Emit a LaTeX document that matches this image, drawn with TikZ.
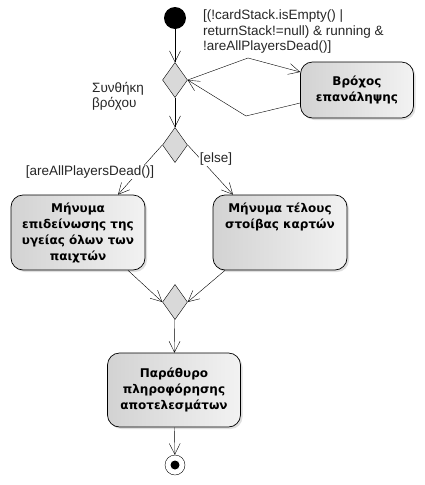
\documentclass[tikz,border=0pt]{standalone}
\usepackage{fontspec}
\setmainfont{Liberation Sans}
\newfontfamily\boxfont{DejaVu Sans}
\usepackage{tikz}
\usetikzlibrary{arrows.meta,shapes.geometric,shadows,positioning}

\begin{document}
\begin{tikzpicture}[x=1pt, y=-1pt,
    flow/.style={-{Straight Barb[length=11pt,width=11pt]}, thin},
    decision/.style={diamond, draw, fill=gray!30, inner sep=0pt, minimum width=25pt, minimum height=35pt},
    actbox/.style={draw, line width=0.7pt, rounded corners=12pt, left color=gray!35, right color=gray!10,
      drop shadow={shadow xshift=2pt, shadow yshift=-2pt, fill=gray!50}},
    boxtext/.style={align=center, font=\boxfont\bfseries\fontsize{12}{16}\selectfont},
    guard/.style={font=\fontsize{13.5}{15.5}\selectfont, text=black!85, inner sep=1pt}]
    \useasboundingbox (0,0) rectangle (424,485);

    \node[circle, fill=black, minimum size=22pt, inner sep=0pt] (start) at (175,18) {};
    \node[decision] (dec1) at (175,80) {};
    \node[actbox, minimum width=113pt, minimum height=56pt, boxtext] (loopbox) at (357,90) {Βρόχος\\επανάληψης};
    \node[guard, align=left, anchor=north west] (loopguard) at (202,9)
      {[(!cardStack.isEmpty() |\\returnStack!=null) \& running \&\\!areAllPlayersDead()]};
    \node[guard, align=left, anchor=north west] (looplabel) at (91,81) {Συνθήκη\\βρόχου};

    \node[decision] (dec2) at (175,145) {};
    \node[actbox, minimum width=134pt, minimum height=75pt, boxtext] (msgdead) at (78,232.5)
      {Μήνυμα\\επιδείνωσης της\\υγείας όλων των\\παιχτών};
    \node[actbox, minimum width=134pt, minimum height=75pt] (msgend) at (280,232.5) {};
    \node[boxtext, below=5pt of msgend.north] (msgendtext) {Μήνυμα τέλους\\στοίβας καρτών};

    \node[decision] (merge) at (175,302) {};
    \node[actbox, minimum width=133pt, minimum height=74pt, boxtext] (results) at (174,390)
      {Παράθυρο\\πληροφόρησης\\αποτελεσμάτων};
    \node[circle, draw, minimum size=20pt, inner sep=0pt] (final) at (175,465) {};
    \fill (final) circle (4.5);

    \coordinate (loopup) at (248,58);
    \coordinate (loopdn) at (246,116);

    \draw[flow] (start) -- (dec1);
    \draw[flow] (dec1.east) -- (loopup) -- ([yshift=18pt]loopbox.west);
    \draw[flow] ([yshift=-13pt]loopbox.west) -- (loopdn) -- (dec1.east);
    \draw[flow] (dec1) -- (dec2);
    \draw[flow] (dec2.west) -- ([xshift=40pt]msgdead.north);
    \draw[flow] (dec2.east) -- ([xshift=-47pt]msgend.north);
    \node[guard, fill=white] (deadguard) at (90,172) {[areAllPlayersDead()]};
    \node[guard, fill=white] (elseguard) at (216,159) {[else]};
    \draw[flow] ([xshift=50pt]msgdead.south) -- (merge.west);
    \draw[flow] ([xshift=-55pt]msgend.south) -- (merge.east);
    \draw[flow] (merge) -- (results);
    \draw[flow] (results) -- (final);
\end{tikzpicture}
\end{document}
